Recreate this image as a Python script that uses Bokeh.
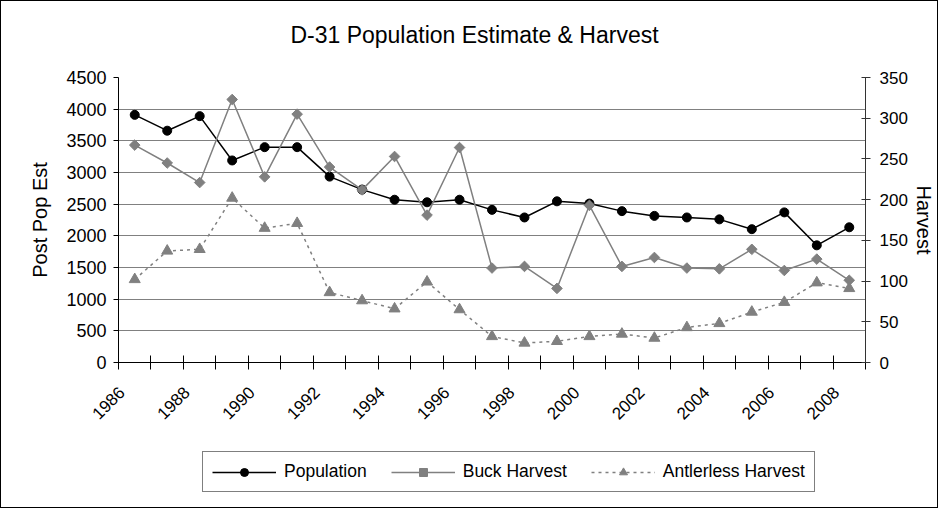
import math
from bokeh.plotting import figure
from bokeh.layouts import column
from bokeh.models import Range1d, LinearAxis, FixedTicker, Legend, LegendItem, Label
from bokeh.embed import file_html
from bokeh.resources import INLINE

# ---- data ----
years = list(range(1986, 2009))
population = [3910, 3660, 3890, 3190, 3400, 3400, 2935, 2730, 2570, 2530, 2570, 2410,
              2290, 2545, 2510, 2390, 2315, 2290, 2260, 2105, 2370, 1850, 2135]
buck_harvest = [267, 245, 221, 323, 228, 305, 240, 212, 253, 181, 264, 116,
                118, 91, 193, 118, 129, 116, 115, 139, 113, 127, 101]
antlerless_harvest = [102, 137, 139, 202, 165, 171, 86, 76, 66, 99, 65, 32,
                      24, 26, 32, 35, 30, 43, 48, 62, 74, 98, 91]
label_years = list(range(1986, 2009, 2))
year_labels = [str(y) for y in label_years]
left_ticks = list(range(0, 4501, 500))
right_ticks = list(range(0, 351, 50))
title_text = "D-31 Population Estimate & Harvest"

FONT = "Liberation Sans"
GRAY = "#808080"
LABEL_SHIFT = 0.4          # rotated labels end slightly left of category centre
W = 936
H_TITLE, H_MAIN, H_LEGEND = 60, 380, 66


def strip(height):
    f = figure(width=W, height=height, output_backend="svg", toolbar_location=None,
               x_axis_location=None, y_axis_location=None,
               x_range=Range1d(0, 1), y_range=Range1d(0, 1),
               min_border_left=0, min_border_right=0, min_border_top=0,
               min_border_bottom=0)
    f.outline_line_color = None
    f.background_fill_color = "white"
    f.border_fill_color = "white"
    f.grid.visible = False
    return f


# ---- title strip (its frame is aligned with the chart frame by the column) ----
pt = strip(H_TITLE)
pt.add_layout(Label(x=356, y=27, x_units="screen", y_units="screen", text=title_text,
                    text_font=FONT, text_font_size="23px", text_color="black",
                    text_align="center", text_baseline="alphabetic"))

# ---- main chart ----
p = figure(width=W, height=H_MAIN, output_backend="svg", toolbar_location=None,
           x_range=Range1d(years[0] - 0.5, years[-1] + 0.5),
           y_range=Range1d(left_ticks[0], left_ticks[-1]),
           min_border_left=117, min_border_right=71, min_border_top=16,
           min_border_bottom=79)
p.extra_y_ranges = {"harvest": Range1d(right_ticks[0], right_ticks[-1])}
p.outline_line_color = None
p.background_fill_color = "white"
p.border_fill_color = "white"

# x axis: tick marks at category boundaries, labels at even years
xa = p.xaxis[0]
label_pos = [y - LABEL_SHIFT for y in label_years]
xa.ticker = FixedTicker(ticks=label_pos,
                        minor_ticks=[y - 0.5 for y in years] + [years[-1] + 0.5])
xa.major_label_overrides = {t: s for t, s in zip(label_pos, year_labels)}
xa.major_tick_line_color = None
xa.major_tick_in = 0
xa.major_tick_out = 0
xa.minor_tick_line_color = "black"
xa.minor_tick_in = 7
xa.minor_tick_out = 7
xa.axis_line_color = "black"
xa.major_label_orientation = math.pi / 4
xa.major_label_standoff = 20
xa.major_label_text_font = FONT
xa.major_label_text_font_size = "17px"
xa.major_label_text_color = "black"

# left axis
ya = p.yaxis[0]
ya.ticker = FixedTicker(ticks=left_ticks)
ya.axis_label = "Post Pop Est"
ya.axis_label_text_font = FONT
ya.axis_label_text_font_size = "20px"
ya.axis_label_text_font_style = "normal"
ya.axis_label_text_color = "black"
ya.axis_label_standoff = 12
ya.major_tick_in = 0
ya.major_tick_out = 5
ya.minor_tick_line_color = None
ya.major_label_standoff = 7
ya.major_label_text_font = FONT
ya.major_label_text_font_size = "18px"
ya.major_label_text_color = "black"
ya.axis_line_color = "black"

# right axis
ra = LinearAxis(y_range_name="harvest", ticker=FixedTicker(ticks=right_ticks),
                axis_label="Harvest")
ra.axis_label_text_font = FONT
ra.axis_label_text_font_size = "20px"
ra.axis_label_text_font_style = "normal"
ra.axis_label_text_color = "black"
ra.axis_label_standoff = 2
ra.major_tick_in = 4
ra.major_tick_out = 5
ra.minor_tick_line_color = None
ra.major_label_standoff = 9
ra.major_label_text_font = FONT
ra.major_label_text_font_size = "17px"
ra.major_label_text_color = "black"
ra.axis_line_color = "#333333"
ra.major_tick_line_color = "#333333"
p.add_layout(ra, "right")

p.xgrid.visible = False
p.ygrid.ticker = FixedTicker(ticks=left_ticks)
p.ygrid.grid_line_color = GRAY
p.ygrid.grid_line_width = 1

pop_style = dict(line_color="black", line_width=1.5)
pop_mark = dict(marker="circle", size=9, fill_color="black", line_color="black")
buck_style = dict(line_color=GRAY, line_width=1.5)
buck_mark = dict(marker="square", angle=math.pi / 4, size=7.5,
                 fill_color=GRAY, line_color=GRAY)
antl_style = dict(line_color=GRAY, line_width=1.5, line_dash="3 4")
antl_mark = dict(marker="triangle", size=11, fill_color=GRAY, line_color=GRAY)

p.line(years, population, **pop_style)
p.scatter(years, population, **pop_mark)
p.line(years, buck_harvest, y_range_name="harvest", **buck_style)
p.scatter(years, buck_harvest, y_range_name="harvest", **buck_mark)
p.line(years, antlerless_harvest, y_range_name="harvest", **antl_style)
p.scatter(years, antlerless_harvest, y_range_name="harvest", **antl_mark)

# ---- legend strip: same series, outside this strip's own ranges (keys only) ----
pl = strip(H_LEGEND)
l1 = pl.line(years, population, **pop_style)
m1 = pl.scatter(years, population, **pop_mark)
l2 = pl.line(years, buck_harvest, **buck_style)
m2 = pl.scatter(years, buck_harvest, **buck_mark)
l3 = pl.line(years, antlerless_harvest, **antl_style)
m3 = pl.scatter(years, antlerless_harvest, **antl_mark)
legend = Legend(items=[
    LegendItem(label="Population", renderers=[l1, m1]),
    LegendItem(label="Buck Harvest", renderers=[l2, m2]),
    LegendItem(label="Antlerless Harvest", renderers=[l3, m3]),
], orientation="horizontal", location=(84, 15))
legend.border_line_color = "black"
legend.border_line_width = 1
legend.background_fill_color = "white"
legend.glyph_width = 64
legend.glyph_height = 20
legend.label_height = 20
legend.label_standoff = 8
legend.spacing = 24
legend.padding = 9
legend.margin = 0
legend.label_text_font = FONT
legend.label_text_font_size = "17.5px"
legend.label_text_color = "black"
pl.add_layout(legend, "center")

page = column(pt, p, pl, spacing=0)
page.styles = {"border": "1px solid black"}

open("out.html", "w").write(file_html(page, INLINE))
